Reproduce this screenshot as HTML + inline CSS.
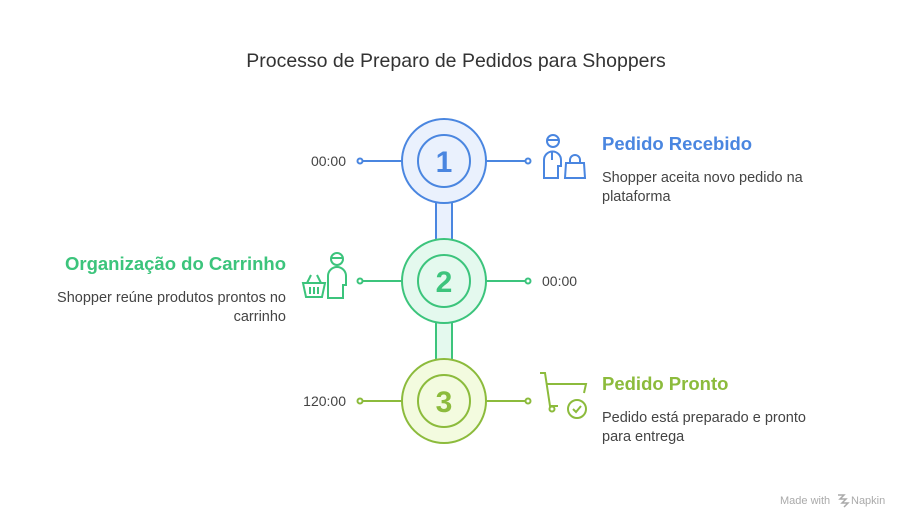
<!DOCTYPE html>
<html><head><meta charset="utf-8"><style>
html,body{margin:0;padding:0;background:#fff;}
svg{display:block;font-family:"Liberation Sans",Arial,sans-serif;}
</style></head><body>
<svg width="912" height="528" viewBox="0 0 912 528" xmlns="http://www.w3.org/2000/svg">
<text x="456" y="67" text-anchor="middle" font-size="19.5" fill="#333">Processo de Preparo de Pedidos para Shoppers</text>

<rect x="436" y="200" width="16" height="44" fill="#eaf1fd" stroke="#4a86e0" stroke-width="2"/>
<rect x="436" y="320" width="16" height="44" fill="#e4f9ee" stroke="#3cc47c" stroke-width="2"/>

<g stroke="#4a86e0" stroke-width="2" fill="none">
<line x1="362" y1="161" x2="402" y2="161"/><circle cx="360" cy="161" r="2.5" fill="#fff"/>
<line x1="486" y1="161" x2="526" y2="161"/><circle cx="528" cy="161" r="2.5" fill="#fff"/>
<circle cx="444" cy="161" r="42" fill="#eaf1fd"/>
<circle cx="444" cy="161" r="26"/>
<circle cx="553" cy="141" r="6"/><line x1="547" y1="140" x2="559" y2="140"/>
<path d="M544 178 V160 a8 8 0 0 1 17 0 V166 h-3 V178 Z"/><line x1="552" y1="152" x2="552" y2="160"/>
<path d="M565 178 l1-15 h18 l1 15 Z M570 163 v-3 a5 5 0 0 1 10 0 v3"/>
</g>
<text x="444" y="172" text-anchor="middle" font-size="30" font-weight="bold" fill="#4a86e0">1</text>
<text x="346" y="166" text-anchor="end" font-size="14" fill="#444">00:00</text>
<text x="602" y="150" font-size="18.5" font-weight="bold" fill="#4a86e0">Pedido Recebido</text>
<text x="602" y="182" font-size="14.5" fill="#444">Shopper aceita novo pedido na</text>
<text x="602" y="201" font-size="14.5" fill="#444">plataforma</text>

<g stroke="#3cc47c" stroke-width="2" fill="none">
<line x1="362" y1="281" x2="402" y2="281"/><circle cx="360" cy="281" r="2.5" fill="#fff"/>
<line x1="486" y1="281" x2="526" y2="281"/><circle cx="528" cy="281" r="2.5" fill="#fff"/>
<circle cx="444" cy="281" r="42" fill="#e4f9ee"/>
<circle cx="444" cy="281" r="26"/>
<circle cx="337" cy="259" r="6"/><line x1="331" y1="258" x2="343" y2="258"/>
<path d="M328 298 V276 a9 9 0 0 1 18 0 V285 h-3 V298 Z"/>
<path d="M303 283 h22 l-3 14 h-16 Z M307 283 l4 -8 M321 283 l-4 -8 M310 287 v7 M314 287 v7 M318 287 v7"/>
</g>
<text x="444" y="292" text-anchor="middle" font-size="30" font-weight="bold" fill="#3cc47c">2</text>
<text x="542" y="286" font-size="14" fill="#444">00:00</text>
<text x="286" y="270" text-anchor="end" font-size="18.5" font-weight="bold" fill="#3cc47c">Organização do Carrinho</text>
<text x="286" y="302" text-anchor="end" font-size="14.5" fill="#444">Shopper reúne produtos prontos no</text>
<text x="286" y="321" text-anchor="end" font-size="14.5" fill="#444">carrinho</text>

<g stroke="#8cbb3c" stroke-width="2" fill="none">
<line x1="362" y1="401" x2="402" y2="401"/><circle cx="360" cy="401" r="2.5" fill="#fff"/>
<line x1="486" y1="401" x2="526" y2="401"/><circle cx="528" cy="401" r="2.5" fill="#fff"/>
<circle cx="444" cy="401" r="42" fill="#f3fbdf"/>
<circle cx="444" cy="401" r="26"/>
<path d="M540 373 h5 l5 33 h8 M546 384 h40 l-2 9"/>
<circle cx="552" cy="409" r="2.5"/>
<circle cx="577" cy="409" r="9"/><path d="M573 409 l3 3 l5 -6"/>
</g>
<text x="444" y="412" text-anchor="middle" font-size="30" font-weight="bold" fill="#8cbb3c">3</text>
<text x="346" y="406" text-anchor="end" font-size="14" fill="#444">120:00</text>
<text x="602" y="390" font-size="18.5" font-weight="bold" fill="#8cbb3c">Pedido Pronto</text>
<text x="602" y="422" font-size="14.5" fill="#444">Pedido está preparado e pronto</text>
<text x="602" y="441" font-size="14.5" fill="#444">para entrega</text>

<text x="780" y="504" font-size="11" fill="#aaa">Made with</text>
<path d="M838 495 l6 0 l-4 4 l6 0 l-4 4 l6 0 l-4 4" stroke="#aaa" stroke-width="1.5" fill="none"/>
<text x="851" y="504" font-size="11" fill="#aaa">Napkin</text>
</svg>
</body></html>
